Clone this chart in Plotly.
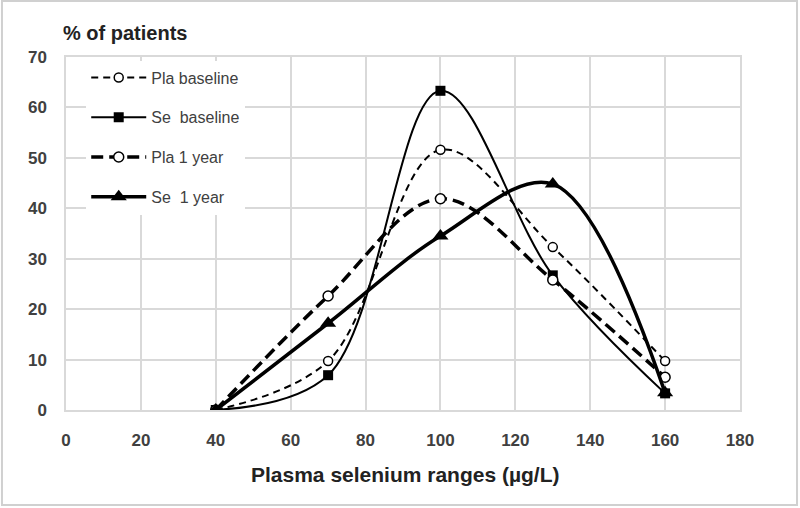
import plotly.graph_objects as go

x_vals = [40, 70, 100, 130, 160]
pla_baseline = [0, 9.7, 51.6, 32.3, 9.7]
se_baseline = [0, 6.9, 63.3, 26.7, 3.3]
pla_1year = [0, 22.6, 41.9, 25.8, 6.5]
se_1year = [0, 17.2, 34.5, 44.8, 3.4]

x_ticks = [0, 20, 40, 60, 80, 100, 120, 140, 160, 180]
y_ticks = [0, 10, 20, 30, 40, 50, 60, 70]

fig = go.Figure()
fig.add_trace(go.Scatter(x=x_vals, y=pla_baseline, name="Pla baseline", mode="lines+markers", legendgroup="a",
                         line=dict(color="black", width=2, dash="7px,5px", shape="spline", smoothing=1),
                         marker=dict(symbol="circle", size=9, color="white", line=dict(width=1.5, color="black"))))
fig.add_trace(go.Scatter(x=x_vals, y=se_baseline, name="Se  baseline", mode="lines+markers", legendgroup="b",
                         line=dict(color="black", width=2, shape="spline", smoothing=1),
                         marker=dict(symbol="square", size=10, color="black")))
fig.add_trace(go.Scatter(x=x_vals, y=pla_1year, name="Pla 1 year", mode="lines+markers", legendgroup="c",
                         line=dict(color="black", width=3.5, dash="12px,6px", shape="spline", smoothing=1),
                         marker=dict(symbol="circle", size=10, color="white", line=dict(width=1.5, color="black"))))
fig.add_trace(go.Scatter(x=x_vals, y=se_1year, name="Se  1 year", mode="lines+markers", legendgroup="d",
                         line=dict(color="black", width=3.5, shape="spline", smoothing=1),
                         marker=dict(symbol="triangle-up", size=14, color="black")))

fig.update_layout(
    width=800, height=508,
    margin=dict(l=66, r=60, t=57, b=98),
    paper_bgcolor="white", plot_bgcolor="white",
    font=dict(family="Liberation Sans, Arial", color="#404040"),
    showlegend=True,
    legend=dict(x=0.03, y=0.99, xanchor="left", yanchor="top", bgcolor="white",
                font=dict(size=16, color="#404040"), itemwidth=55, tracegroupgap=16),
    annotations=[
        dict(text="<b>% of patients</b>", xref="paper", yref="paper", x=-0.008, y=1.068,
             xanchor="left", yanchor="middle", showarrow=False,
             font=dict(size=20, color="#222222")),
        dict(text="<b>Plasma selenium ranges (µg/L)</b>", xref="paper", yref="paper", x=0.503, y=-0.184,
             xanchor="center", yanchor="middle", showarrow=False,
             font=dict(size=21, color="#222222")),
    ],
    shapes=[dict(type="rect", xref="paper", yref="paper", x0=-0.095, x1=1.0846, y0=-0.269, y1=1.1586,
                 line=dict(color="#d0d0d0", width=2))],
)
fig.update_xaxes(range=[0, 180], tickvals=x_ticks, showgrid=True, gridcolor="#d9d9d9", gridwidth=1.5,
                 zeroline=False, showline=True, linecolor="#d9d9d9", linewidth=1.5,
                 tickfont=dict(size=17, color="#404040", weight="bold"), ticks="", mirror=True,
                 ticklabelstandoff=14)
fig.update_yaxes(range=[0, 70], tickvals=y_ticks, showgrid=True, gridcolor="#d9d9d9", gridwidth=1.5,
                 zeroline=False, showline=True, linecolor="#d9d9d9", linewidth=1.5,
                 tickfont=dict(size=17, color="#404040", weight="bold"), ticks="", mirror=True,
                 ticklabelstandoff=14)

fig.write_html("out.html", config={"displayModeBar": False},
               post_script="document.body.style.margin='0';")
